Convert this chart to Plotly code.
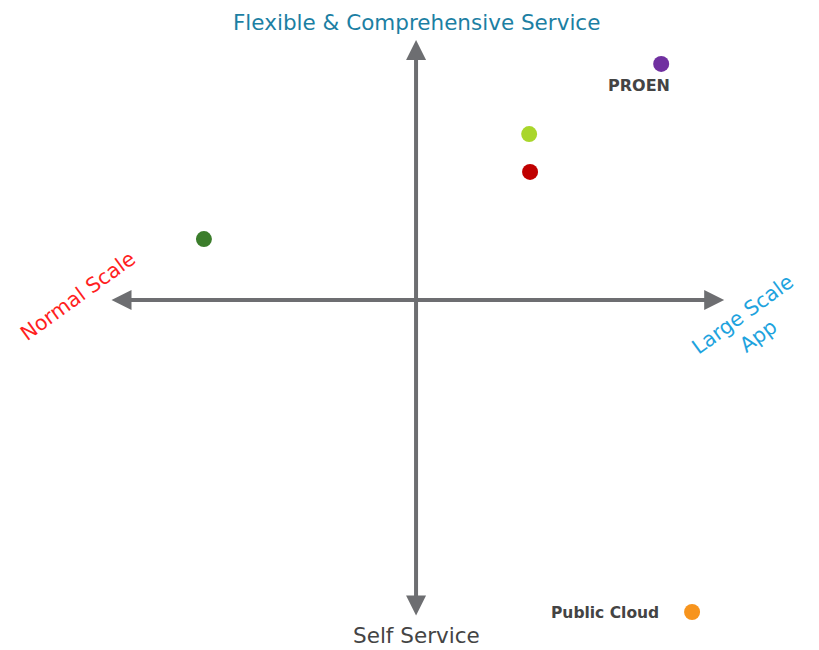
import plotly.graph_objects as go

# positioning map data (centre of the cross = 0, 0)
names = ['Green', 'Lime', 'Red', 'PROEN', 'Public Cloud']
x_vals = [-0.707, 0.377, 0.380, 0.817, 0.920]
y_vals = [0.203, 0.553, 0.427, 0.787, -1.040]
colors = ['#3b7d2b', '#a9d62b', '#c00000', '#7030a0', '#f7941d']

# extent of the two arrows
x_arrow = [-1.02, 1.027]
y_arrow = [-1.057, 0.867]

arrow_color = '#6d6e71'
FONT = 'DejaVu Sans'

fig = go.Figure()

fig.add_trace(go.Scatter(
    x=x_vals,
    y=y_vals,
    mode='markers',
    marker=dict(size=16, color=colors),
    hovertext=names,
    hoverinfo='text',
    showlegend=False,
))

# axes arrows
fig.add_annotation(x=x_arrow[1], y=0, ax=x_arrow[0], ay=0,
                   xref='x', yref='y', axref='x', ayref='y', text='',
                   showarrow=True, arrowside='end+start', arrowhead=2,
                   arrowsize=1, arrowwidth=4, arrowcolor=arrow_color)
fig.add_annotation(x=0, y=y_arrow[1], ax=0, ay=y_arrow[0],
                   xref='x', yref='y', axref='x', ayref='y', text='',
                   showarrow=True, arrowside='end+start', arrowhead=2,
                   arrowsize=1, arrowwidth=4, arrowcolor=arrow_color)

# point labels
fig.add_annotation(x=x_vals[3], y=y_vals[3], text='<b>PROEN</b>', showarrow=False,
                   xanchor='center', yanchor='middle', xshift=-22, yshift=-22,
                   font=dict(family=FONT, size=16, color='#444444'))
fig.add_annotation(x=x_vals[4], y=y_vals[4], text='<b>Public Cloud</b>', showarrow=False,
                   xanchor='right', yanchor='middle', xshift=-31, yshift=-1,
                   font=dict(family=FONT, size=15.5, color='#444444'))

# quadrant titles
fig.add_annotation(x=0, y=1, xref='x', yref='paper', yanchor='top',
                   text='Flexible & Comprehensive Service', showarrow=False,
                   font=dict(family=FONT, size=21.5, color='#1c7fa3'))
fig.add_annotation(x=0, y=0, xref='x', yref='paper', yanchor='bottom',
                   text='Self Service', showarrow=False,
                   font=dict(family=FONT, size=21.5, color='#444444'))
fig.add_annotation(x=-1.127, y=0.013, text='Normal Scale', showarrow=False,
                   textangle=-36, font=dict(family=FONT, size=20.5, color='#ff1f1f'))
fig.add_annotation(x=1.114, y=-0.085, text='Large Scale<br>App', showarrow=False,
                   textangle=-36, font=dict(family=FONT, size=20.5, color='#1ea3de'))

# page body has an 8px margin, so the figure is 8px smaller than the window
fig.update_xaxes(range=[-1.36, 1.343], visible=False, fixedrange=True)
fig.update_yaxes(range=[-1.1667, 0.9733], visible=False, fixedrange=True)

fig.update_layout(
    width=811,
    height=642,
    margin=dict(l=0, r=0, t=0, b=0),
    plot_bgcolor='white',
    paper_bgcolor='white',
)

fig.write_html("out.html")
